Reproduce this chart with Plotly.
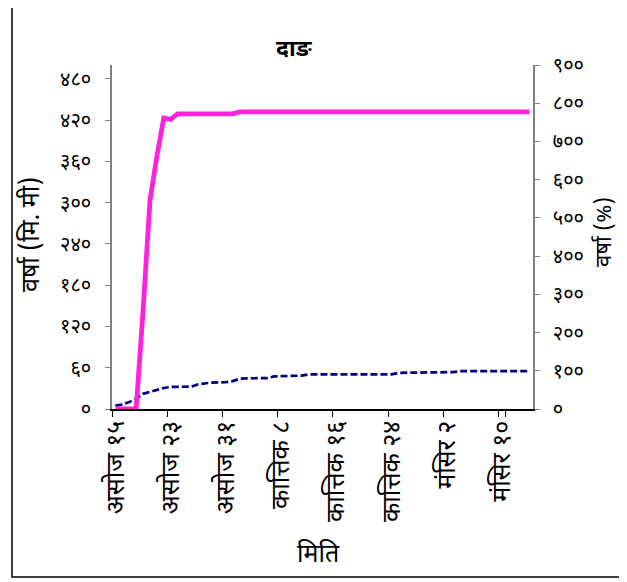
import plotly.graph_objects as go

DEV = str.maketrans("0123456789", "०१२३४५६७८९")

def dev(n):
    return str(n).translate(DEV)

# Dates (Nepali calendar), one category per day
month_spans = [("असोज", 15, 31), ("कात्तिक", 1, 30), ("मंसिर", 1, 14)]
dates = [f"{m} {dev(d)}" for m, a, b in month_spans for d in range(a, b + 1)]

# Cumulative rainfall (mm) - actual (magenta) and normal (navy dashed)
actual_mm = [0, 0, 0, 0, 143, 303, 367, 423, 421, 429,
             429, 429, 429, 429, 429, 429, 429, 429, 432, 432,
             432, 432, 432, 432, 432, 432, 432, 432, 432, 432,
             432, 432, 432, 432, 432, 432, 432, 432, 432, 432,
             432, 432, 432, 432, 432, 432, 432, 432, 432, 432,
             432, 432, 432, 432, 432, 432, 432, 432, 432, 432,
             432]
normal_mm = [5, 6.5, 10, 15, 22, 25, 28, 30.5, 32, 32,
             32, 32.6, 36, 37.7, 38.4, 38.7, 39, 40.5, 44, 44.5,
             44.5, 44.5, 45, 47.4, 47.8, 47.8, 47.8, 48.5, 50.3, 50.3,
             50.3, 50.3, 50.3, 50.3, 50.3, 50.3, 50.3, 50.3, 50.3, 50.3,
             50.3, 52.6, 52.6, 52.6, 52.6, 52.6, 52.6, 52.6, 52.6, 53.6,
             55, 55, 55, 55, 55, 55, 55, 55, 55, 55,
             55]

left_ticks = [0, 60, 120, 180, 240, 300, 360, 420, 480]
right_ticks = [0, 100, 200, 300, 400, 500, 600, 700, 800, 900]
xtick_labels = dates[::8]

FONT = "Noto Sans Devanagari, Lohit Devanagari, FreeSans, Noto Sans, sans-serif"

# screen -> paper helpers (plot area on screen: x 112..533, y 65..409)
def px(x):
    return (x - 112) / 421

def py(y):
    return (409 - y) / 344

fig = go.Figure()
fig.add_trace(go.Scatter(x=dates, y=normal_mm, mode="lines",
                         line=dict(color="#000080", width=2.7, dash="7px,3px"),
                         showlegend=False))
fig.add_trace(go.Scatter(x=dates, y=actual_mm, mode="lines",
                         line=dict(color="#FF22DD", width=4.8),
                         showlegend=False))
fig.add_trace(go.Scatter(x=[], y=[], yaxis="y2", showlegend=False))

axcol = "#808080"
fig.update_layout(
    width=627, height=582,
    margin=dict(l=104, r=102, t=57, b=181, autoexpand=False),
    paper_bgcolor="white", plot_bgcolor="white",
    font=dict(family=FONT, color="black"),
    xaxis=dict(type="category", categoryorder="array", categoryarray=dates,
               range=[-0.5, len(dates) - 0.5],
               tickvals=xtick_labels, ticktext=xtick_labels, tickson="boundaries",
               tickangle=-90, tickfont=dict(size=25),
               ticks="outside", ticklen=6, tickcolor="black",
               showline=True, linecolor="black", linewidth=1.5,
               showgrid=False, zeroline=False, automargin=False),
    yaxis=dict(range=[0, 500], tickvals=left_ticks,
               ticktext=[dev(v) for v in left_ticks], tickfont=dict(size=20),
               ticks="outside", ticklen=5, tickcolor=axcol, ticklabelstandoff=10,
               showline=True, linecolor=axcol, linewidth=1.5,
               showgrid=False, zeroline=False, automargin=False),
    yaxis2=dict(range=[0, 900], overlaying="y", side="right",
                tickvals=right_ticks, ticktext=[dev(v) for v in right_ticks],
                tickfont=dict(size=20), ticks="outside", ticklen=5, tickcolor=axcol,
                ticklabelstandoff=9,
                showline=True, linecolor=axcol, linewidth=1.5,
                showgrid=False, zeroline=False, automargin=False),
    annotations=[
        dict(text="<b>दाङ</b>", xref="paper", yref="paper",
             x=px(294), y=py(50), xanchor="center", yanchor="middle",
             showarrow=False, font=dict(size=23)),
        dict(text="वर्षा (मि. मी)", xref="paper", yref="paper",
             x=px(32), y=py(235), xanchor="center", yanchor="middle",
             textangle=-90, showarrow=False, font=dict(size=25)),
        dict(text="वर्षा (%)", xref="paper", yref="paper",
             x=px(605), y=py(232), xanchor="center", yanchor="middle",
             textangle=-90, showarrow=False, font=dict(size=22)),
        dict(text="मिति", xref="paper", yref="paper",
             x=px(318), y=py(555), xanchor="center", yanchor="middle",
             showarrow=False, font=dict(size=25)),
    ],
    shapes=[dict(type="rect", xref="paper", yref="paper",
                 x0=px(12), x1=px(621), y0=py(577), y1=py(-6),
                 line=dict(color="black", width=1.5))],
)

fig.write_html("out.html")
